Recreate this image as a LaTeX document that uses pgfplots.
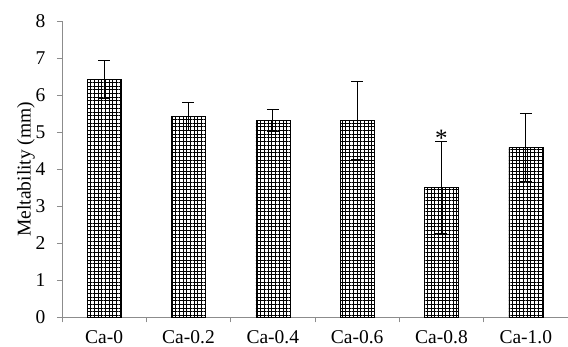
\documentclass[border=0pt]{standalone}
\usepackage{pgfplots}
\pgfplotsset{compat=1.18}
\usepackage{fontspec}
\setmainfont{Liberation Serif}
\usetikzlibrary{patterns.meta}
\tikzdeclarepattern{
  name=mygrid,
  type=uncolored,
  bottom left={(-0.1bp,-0.1bp)},
  top right={(3.8bp,3.8bp)},
  tile size={(3.7bp,3.7bp)},
  code={
    \draw[line width=1bp] (0,1.85bp) -- (3.7bp,1.85bp);
    \draw[line width=1bp] (1.85bp,0) -- (1.85bp,3.7bp);
  }
}
\pgfplotstableread{
x y err
0 6.42 0.52
1 5.42 0.38
2 5.32 0.30
3 5.31 1.06
4 3.50 1.24
5 4.59 0.92
}\datatable
\begin{document}
\begin{tikzpicture}
\begin{axis}[
  scale only axis,
  width=506bp, height=296.3bp,
  xmin=-0.5, xmax=5.5, ymin=0, ymax=8,
  axis x line=bottom, axis y line=left,
  axis line style={draw=gray!90, line width=0.8bp, -},
  xtick={0,...,5},
  xticklabels={Ca-0,Ca-0.2,Ca-0.4,Ca-0.6,Ca-0.8,Ca-1.0},
  minor xtick={-0.5,0.5,...,5.5},
  ytick={0,...,8},
  tick align=outside,
  major x tick style={draw=none},
  minor x tick style={draw=gray!90, line width=0.8bp},
  minor tick length=5bp,
  major tick length=5bp,
  y tick style={draw=gray!90, line width=0.8bp},
  /pgf/number format/assume math mode=true,
  tick label style={font=\fontsize{19.5bp}{22bp}\selectfont, black},
  xticklabel style={yshift=-5bp},
  yticklabel style={xshift=-8bp},
  ylabel={Meltability (mm)},
  ylabel style={font=\fontsize{19.5bp}{22bp}\selectfont, yshift=-6bp},
  clip=false,
]
\addplot[ybar, bar width=34bp, pattern={mygrid}, pattern color=black, draw=black, line width=0.5bp,
  error bars/.cd, y dir=both, y explicit,
  error bar style={line width=1.3bp, black},
  error mark options={mark size=6bp, line width=1.3bp, rotate=90}]
  table[x=x, y=y, y error=err] {\datatable};
\node[font=\fontsize{25bp}{28bp}\selectfont, anchor=base, inner sep=0pt] at (axis cs:4,4.62) {*};
\end{axis}
\pgfresetboundingbox
\path (current axis.south west) ++(-62bp,-29.7bp) rectangle ++(568bp,347bp);
\end{tikzpicture}
\end{document}
